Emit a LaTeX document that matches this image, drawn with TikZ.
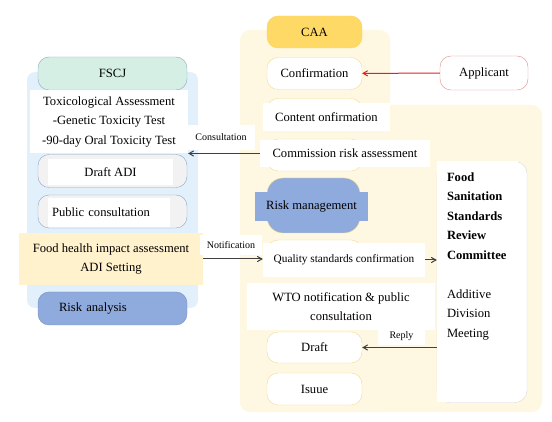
\documentclass[tikz,border=0pt]{standalone}
\usepackage{fontspec}
\setmainfont{Liberation Serif}
\usepackage{tikz}
\usetikzlibrary{shapes,arrows}
\usetikzlibrary{fit,backgrounds,positioning,calc}

\definecolor{PanelBlue}{HTML}{E1F0FB}
\definecolor{PanelCream}{HTML}{FEF8E3}
\definecolor{MintFill}{HTML}{D5EFE4}
\definecolor{StageLine}{HTML}{8FA8C8}
\definecolor{GoldFill}{HTML}{FFD966}
\definecolor{GoldLine}{HTML}{F4DC8E}
\definecolor{SoftYellow}{HTML}{FFF2CC}
\definecolor{RiskBlue}{HTML}{8FAADC}
\definecolor{ApplicantRed}{HTML}{E48C8C}
\definecolor{ArrowRed}{HTML}{E31E24}

\begin{document}
\begin{tikzpicture}[x=1pt, y=-1pt, align=center, >=angle 60, font=\fontsize{12.6}{19.5}\selectfont]

%local definitions
\tikzstyle{LeftStage} = [draw=StageLine, rounded corners=11pt, minimum width=149pt, minimum height=33pt]
\tikzstyle{RightStage} = [draw=GoldLine, fill=white, rounded corners=11pt, minimum width=95pt, minimum height=32pt]
\tikzstyle{WhiteBox} = [fill=white, inner sep=0pt]
\tikzstyle{EdgeLabel} = [fill=white, inner sep=0pt, font=\fontsize{10}{11}\selectfont]
\tikzstyle{Flow} = [draw=black!75, line width=1pt, ->]

\useasboundingbox (0,0) rectangle (552,422);

%panels
\fill [PanelBlue, rounded corners=8pt] (27,72) rectangle (198,308);
\fill [PanelCream, rounded corners=10pt] (240,30) rectangle (390,412);
\fill [PanelCream, rounded corners=10pt] (240,105) rectangle (542,412);

%FSCJ side
	\node [LeftStage, fill=MintFill] (FSCJ) at (112.5,73.5) {FSCJ};
	\node [WhiteBox, minimum width=158pt, minimum height=63pt] (Tox) at (109,121.5) {Toxicological Assessment\\-Genetic Toxicity Test\\-90-day Oral Toxicity Test};
	\node [LeftStage, fill=black!5] (DraftADIStage) at (112.5,171) {};
	\node [WhiteBox, minimum width=125pt, minimum height=26pt] (DraftADI) at (110.5,172) {Draft ADI};
	\node [LeftStage, fill=black!5] (PublicStage) at (112.5,211.5) {};
	\node [WhiteBox, minimum width=122pt, minimum height=29pt, text width=114pt, align=left] (Public) at (109,212.5) {Public consultation};
	\node [WhiteBox, fill=SoftYellow, minimum width=184pt, minimum height=52pt] (Food) at (111,259) {Food health impact assessment\\ADI Setting};
	\node [LeftStage, fill=RiskBlue, draw=RiskBlue!85!black, text width=107pt, align=left] (Risk) at (112.5,308.5) {Risk analysis};

%CAA side
	\node [RightStage, fill=GoldFill, draw=GoldFill!90!orange] (CAA) at (314.5,32) {CAA};
	\node [RightStage] (Confirmation) at (314.5,73.5) {Confirmation};
	\node [RightStage] (ContentStage) at (314.5,114.5) {};
	\node [WhiteBox, minimum width=127pt, minimum height=28pt] (Content) at (326.5,117) {Content onfirmation};
	\node [RightStage] (CommissionStage) at (314.5,155) {};
	\node [WhiteBox, minimum width=170pt, minimum height=27pt] (Commission) at (345,153.5) {Commission risk assessment};
	\node [RightStage, fill=RiskBlue, minimum width=93pt, minimum height=55pt, rounded corners=16pt] (RiskMgmtStage) at (313.5,205.5) {};
	\node [WhiteBox, fill=RiskBlue, minimum width=113pt, minimum height=29pt] (RiskMgmt) at (311.5,206.5) {Risk management};
	\node [RightStage, minimum height=36pt] (QualityStage) at (314.5,258) {};
	\node [WhiteBox, minimum width=162pt, minimum height=34pt, font=\fontsize{11.3}{13}\selectfont] (Quality) at (344,260) {Quality standards confirmation};
	\node [WhiteBox, minimum width=188pt, minimum height=47pt] (WTO) at (341,306.5) {WTO notification \& public\\consultation};
	\node [RightStage, minimum height=31pt] (Draft) at (314.5,347.5) {Draft};
	\node [RightStage] (Isuue) at (314.5,389) {Isuue};
	\node [RightStage, draw=ApplicantRed, minimum width=88pt, minimum height=34pt] (Applicant) at (484,73) {Applicant};

%committee
	\node [draw=black!15, fill=white, rounded corners=12pt, minimum width=90pt, minimum height=241pt] (Committee) at (482,282) {};
	\fill [white] (Committee.north west) rectangle ($(Committee.south east)+(-9,-0.6)$);
	\node [anchor=north west, align=left, inner sep=0pt] (CommitteeText) at ($(Committee.north west)+(10,11)$) {\textbf{Food}\\\textbf{Sanitation}\\\textbf{Standards}\\\textbf{Review}\\\textbf{Committee}\\[19.5pt]Additive\\Division\\Meeting};

%labels
	\node [EdgeLabel, minimum width=68pt, minimum height=25pt] (ConsultLabel) at (221,137.5) {Consultation};
	\node [EdgeLabel, minimum width=62pt, minimum height=20pt] (NotifyLabel) at (231,245) {Notification};
	\node [EdgeLabel, minimum width=47pt, minimum height=17pt] (ReplyLabel) at (401.5,336.5) {Reply};

%connections
	\draw [->, draw=ArrowRed, line width=1pt] (Applicant) -- (Confirmation);
	\draw [Flow] (Commission.west) -- (Commission.west -| Tox.east);
	\draw [Flow] (Food.east) -- (Food.east -| Quality.west);
	\draw [Flow] (Quality.east) -- (Quality.east -| Committee.west);
	\draw [Flow] (Committee.west |- Draft.east) -- (Draft.east);

\end{tikzpicture}
\end{document}
